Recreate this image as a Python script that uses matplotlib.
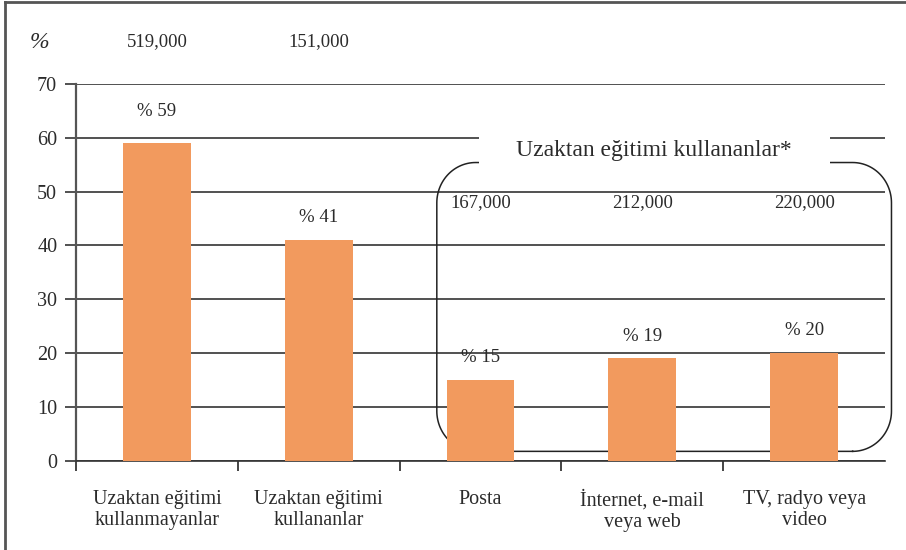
import numpy as np
import matplotlib
matplotlib.use("Agg")
import matplotlib.pyplot as plt
from matplotlib.lines import Line2D
from matplotlib.patches import Rectangle

# ------------------------------------------------------------
# Data
# ------------------------------------------------------------
categories = [
    "Uzaktan eğitimi\nkullanmayanlar",
    "Uzaktan eğitimi\nkullananlar",
    "Posta",
    "İnternet, e-mail\nveya web",
    "TV, radyo veya\nvideo",
]
percentages = [59, 41, 15, 19, 20]
counts = ["519,000", "151,000", "167,000", "212,000", "220,000"]
group_title = "Uzaktan eğitimi kullananlar*"

# styling
bar_color = "#F29A5E"
line_color = "#333333"
text_color = "#2b2b2b"
label_offsets = [23, 16, 16, 16, 16]   # points above bar top
count_y = [77.8, 77.8, 47.9, 47.9, 47.9]

plt.rcParams["font.family"] = ["Liberation Serif", "DejaVu Serif"]

fig = plt.figure(figsize=(9.06, 5.5), dpi=100)
ax = fig.add_axes([76 / 906, 89.5 / 550, 809 / 906, 376.5 / 550])

x = np.arange(len(categories))
ax.bar(x, percentages, width=0.42, color=bar_color, zorder=3)

ax.set_xlim(-0.5, len(categories) - 0.5)
ax.set_ylim(0, 70)

# horizontal grid lines
ax.set_yticks(range(0, 71, 10))
ax.yaxis.grid(True, color=line_color, linewidth=1.2, zorder=1)
ax.set_axisbelow(True)
ax.tick_params(axis="y", length=8, width=1.2, color=line_color, pad=5.5,
               labelsize=14.5, labelcolor=text_color)

# category boundaries as major ticks, names on minor ticks
ax.set_xticks(np.arange(-0.5, len(categories) - 0.5, 1))
ax.set_xticklabels([])
ax.tick_params(axis="x", which="major", length=7, width=1.4, color="#444444")
ax.set_xticks(x, minor=True)
ax.set_xticklabels(categories, minor=True, fontsize=14.5, color=text_color,
                   linespacing=1.2)
ax.tick_params(axis="x", which="minor", length=0, pad=21)

for side in ["top", "right"]:
    ax.spines[side].set_visible(False)
ax.spines["left"].set_color("#555555")
ax.spines["left"].set_linewidth(1.6)
ax.spines["bottom"].set_color(line_color)
ax.spines["bottom"].set_linewidth(1.2)

# bar value labels
for xi, v, off in zip(x, percentages, label_offsets):
    ax.annotate(f"% {v}", (xi, v), xytext=(0, off), textcoords="offset points",
                ha="center", va="center", fontsize=13.5, color=text_color, zorder=5)

# respondent counts
for xi, c, cy in zip(x, counts, count_y):
    ax.text(xi, cy, c, ha="center", va="center", fontsize=13.5,
            color=text_color, clip_on=False, zorder=5)

ax.text(-0.045, 77.8, "%", transform=ax.get_yaxis_transform(), ha="center",
        va="center", fontsize=17, style="italic", color=text_color, clip_on=False)

# rounded bracket box around the three distance education groups
x0, x1, y0, y1 = 1.73, 4.54, 1.7, 55.4
rx, ry = 0.24, 7.5
t = np.linspace(0, np.pi / 2, 30)
px, py = [], []
# bottom-right corner
px += list(x1 - rx + rx * np.sin(t)); py += list(y0 + ry - ry * np.cos(t))
# top-right corner
px += list(x1 - rx + rx * np.cos(t)); py += list(y1 - ry + ry * np.sin(t))
# top-left corner
px += list(x0 + rx - rx * np.sin(t)); py += list(y1 - ry + ry * np.cos(t))
# bottom-left corner
px += list(x0 + rx - rx * np.cos(t)); py += list(y0 + ry - ry * np.sin(t))
px.append(px[0]); py.append(py[0])
ax.plot(px, py, color="#222222", linewidth=1.1, clip_on=False, zorder=2)

# white gap behind the group title
ax.add_patch(Rectangle((1.99, 54.4), 2.17, 6.8, facecolor="white",
                       edgecolor="none", zorder=4, clip_on=False))
ax.text(3.07, 57.7, group_title, ha="center", va="center", fontsize=17,
        color=text_color, zorder=5)

# page frame (left and top edges)
fig.add_artist(Line2D([5 / 906, 5 / 906], [0, 1 - 2 / 550], color="#555555",
                      linewidth=2, transform=fig.transFigure))
fig.add_artist(Line2D([5 / 906, 1], [1 - 2 / 550, 1 - 2 / 550], color="#555555",
                      linewidth=2, transform=fig.transFigure))

fig.savefig("out.png", dpi=100)
